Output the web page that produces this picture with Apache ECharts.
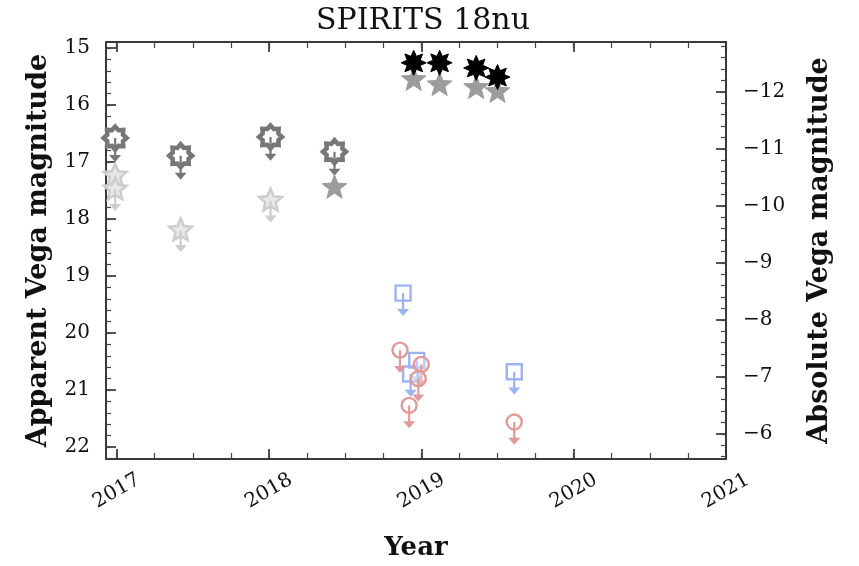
<!DOCTYPE html>
<html><head><meta charset="utf-8">
<script src="https://cdn.jsdelivr.net/npm/echarts@6/dist/echarts.min.js"></script>
<style>html,body{margin:0;padding:0;background:#fff}#c{width:859px;height:566px}</style>
</head><body><div id="c"></div>
<script>
// ---- data ----
const yearTicks = [2017, 2018, 2019, 2020, 2021];
const appMagTicks = [15, 16, 17, 18, 19, 20, 21, 22];
const absMagTicks = [-12, -11, -10, -9, -8, -7, -6];
const distanceModulus = 27.77;

// black asterisks (detections, channel 1)
const ch1Years = [2018.95, 2019.12, 2019.36, 2019.50];
const ch1Mags  = [15.26, 15.26, 15.35, 15.51];
// gray stars (detections, channel 2)
const ch2Years = [2018.43, 2018.95, 2019.12, 2019.36, 2019.50];
const ch2Mags  = [17.45, 15.56, 15.65, 15.70, 15.77];
// dark gray gears (upper limits, channel 1)
const ch1LimYears = [2016.99, 2017.42, 2018.01, 2018.43];
const ch1LimMags  = [16.58, 16.89, 16.56, 16.82];
// light gray stars (upper limits, channel 2)
const ch2LimYears = [2016.99, 2016.99, 2017.42, 2018.01];
const ch2LimMags  = [17.24, 17.48, 18.20, 17.68];
// blue squares (upper limits)
const blueLimYears = [2018.88, 2018.97, 2018.93, 2019.61];
const blueLimMags  = [19.30, 20.48, 20.72, 20.68];
// red circles (upper limits)
const redLimYears = [2018.86, 2019.00, 2018.98, 2018.92, 2019.61];
const redLimMags  = [20.30, 20.55, 20.80, 21.27, 21.56];

// ---- helpers ----
const FONT = 'DejaVu Serif';
const xMin = 2016.93, xMax = 2021.0;
const yMin = 14.895, yMax = 22.21;
function range(a, b, s) { const r = []; for (let v = a; v <= b + 1e-9; v += s) r.push(+v.toFixed(4)); return r; }
const quarterTicks = range(2017, 2021, 0.25);
const appMinor = range(15, 22.2, 0.2);
const absMinor = range(-12.8, -5.6, 0.2);

function starPoints(cx, cy, n, ro, ri, rot) {
  const pts = [];
  for (let i = 0; i < 2 * n; i++) {
    const r = i % 2 === 0 ? ro : ri;
    const a = rot + Math.PI * i / n;
    pts.push([cx + r * Math.sin(a), cy - r * Math.cos(a)]);
  }
  return pts;
}
const markers = {
  asterisk: (p, c) => ({ type: 'polygon', shape: { points: starPoints(p[0], p[1], 8, 12.5, 7, 0) }, style: { fill: c, stroke: c, lineWidth: 1 } }),
  star: (p, c) => ({ type: 'polygon', shape: { points: starPoints(p[0], p[1], 5, 13, 5.5, 0) }, style: { fill: c, stroke: c, lineWidth: 1 } }),
  gear: (p, c) => ({ type: 'polygon', shape: { points: starPoints(p[0], p[1], 8, 11.5, 8.5, 0) }, style: { fill: '#fff', stroke: c, lineWidth: 4.5 } }),
  openStar: (p, c) => ({ type: 'polygon', shape: { points: starPoints(p[0], p[1], 5, 12, 5.5, 0) }, style: { fill: '#e8e8e8', stroke: c, lineWidth: 2.5 } }),
  square: (p, c) => ({ type: 'rect', shape: { x: p[0] - 7.5, y: p[1] - 7.5, width: 15, height: 15 }, style: { fill: 'rgba(255,255,255,0.3)', stroke: c, lineWidth: 2.4 } }),
  circle: (p, c) => ({ type: 'circle', shape: { cx: p[0], cy: p[1], r: 7.5 }, style: { fill: 'rgba(255,255,255,0.3)', stroke: c, lineWidth: 2.4 } })
};

function makeSeries(name, xs, ys, marker, color, arrowMag, z) {
  return {
    type: 'custom', name, xAxisIndex: 0, yAxisIndex: 0, z,
    data: xs.map((x, i) => [x, ys[i]]),
    renderItem: (params, api) => {
      const x = api.value(0), y = api.value(1);
      const p = api.coord([x, y]);
      const children = [markers[marker](p, color)];
      if (arrowMag) {
        const q = api.coord([x, y + arrowMag]);
        children.push({ type: 'line', shape: { x1: p[0], y1: p[1], x2: q[0], y2: q[1] - 3 }, style: { stroke: color, lineWidth: 2.2 } });
        children.push({ type: 'polygon', shape: { points: [[q[0] - 6, q[1] - 7], [q[0] + 6, q[1] - 7], [q[0], q[1]]] }, style: { fill: color } });
      }
      return { type: 'group', children };
    }
  };
}

const axisLineStyle = { color: '#3a3a3a', width: 2 };
const tickStyle = { color: '#2a2a2a', width: 1.6 };
const minorStyle = { color: '#444', width: 1.2 };

function xAx(pos, ticks, len, main) {
  return {
    type: 'value', position: pos, min: xMin, max: xMax,
    axisLine: { show: main, lineStyle: axisLineStyle },
    axisTick: { show: true, inside: true, length: len, customValues: ticks, lineStyle: main ? tickStyle : minorStyle },
    axisLabel: main && pos === 'bottom' ? { customValues: yearTicks, rotate: 30, align: 'center', verticalAlign: 'middle', margin: 32, fontFamily: FONT, fontSize: 20, color: '#111', formatter: v => String(v) } : { show: false },
    splitLine: { show: false },
    name: main && pos === 'bottom' ? 'Year' : '',
    nameLocation: 'middle', nameGap: 76,
    nameTextStyle: { fontFamily: FONT, fontWeight: 'bold', fontSize: 26, color: '#111' }
  };
}
function yAx(pos, mn, mx, ticks, len, main, labels, name, fmt) {
  return {
    type: 'value', position: pos, inverse: true, min: mn, max: mx,
    axisLine: { show: main, lineStyle: axisLineStyle },
    axisTick: { show: true, inside: true, length: len, customValues: ticks, lineStyle: main ? tickStyle : minorStyle },
    axisLabel: main ? { customValues: labels, margin: pos === 'left' ? 16 : 17, fontFamily: FONT, fontSize: 20, color: '#111', formatter: fmt } : { show: false },
    splitLine: { show: false },
    name: main ? name : '', nameLocation: 'middle', nameRotate: 90, nameGap: pos === 'left' ? 54 : 80,
    nameTextStyle: { fontFamily: FONT, fontWeight: 'bold', fontSize: 27, color: '#111' }
  };
}

const chart = echarts.init(document.getElementById('c'), null, { renderer: 'canvas' });
chart.setOption({
  animation: false,
  backgroundColor: '#fff',
  title: { text: 'SPIRITS 18nu', left: 418, top: 1, textAlign: 'center', textStyle: { fontFamily: FONT, fontWeight: 'normal', fontSize: 30, color: '#111' } },
  grid: { left: 106, right: 133, top: 42, bottom: 107 },
  xAxis: [
    xAx('bottom', yearTicks, 10, true),
    xAx('bottom', quarterTicks, 6, false),
    xAx('top', yearTicks, 10, true),
    xAx('top', quarterTicks, 6, false)
  ],
  yAxis: [
    yAx('left', yMin, yMax, appMagTicks, 10, true, appMagTicks, 'Apparent Vega magnitude', v => String(v)),
    yAx('left', yMin, yMax, appMinor, 5, false),
    yAx('right', yMin - distanceModulus, yMax - distanceModulus, absMagTicks, 10, true, absMagTicks, 'Absolute Vega magnitude', v => '\u2212' + Math.abs(v)),
    yAx('right', yMin - distanceModulus, yMax - distanceModulus, absMinor, 5, false)
  ],
  series: [
    makeSeries('ch2 limits', ch2LimYears, ch2LimMags, 'openStar', '#cdcdcd', 0.38, 2),
    makeSeries('ch1 limits', ch1LimYears, ch1LimMags, 'gear', '#777777', 0.42, 3),
    makeSeries('ch2', ch2Years, ch2Mags, 'star', '#9c9c9c', 0, 4),
    makeSeries('ch1', ch1Years, ch1Mags, 'asterisk', '#000000', 0, 5),
    makeSeries('blue limits', blueLimYears, blueLimMags, 'square', '#9fb2f0', 0.4, 6),
    makeSeries('red limits', redLimYears, redLimMags, 'circle', '#e09a9a', 0.4, 7)
  ]
});
</script></body></html>
